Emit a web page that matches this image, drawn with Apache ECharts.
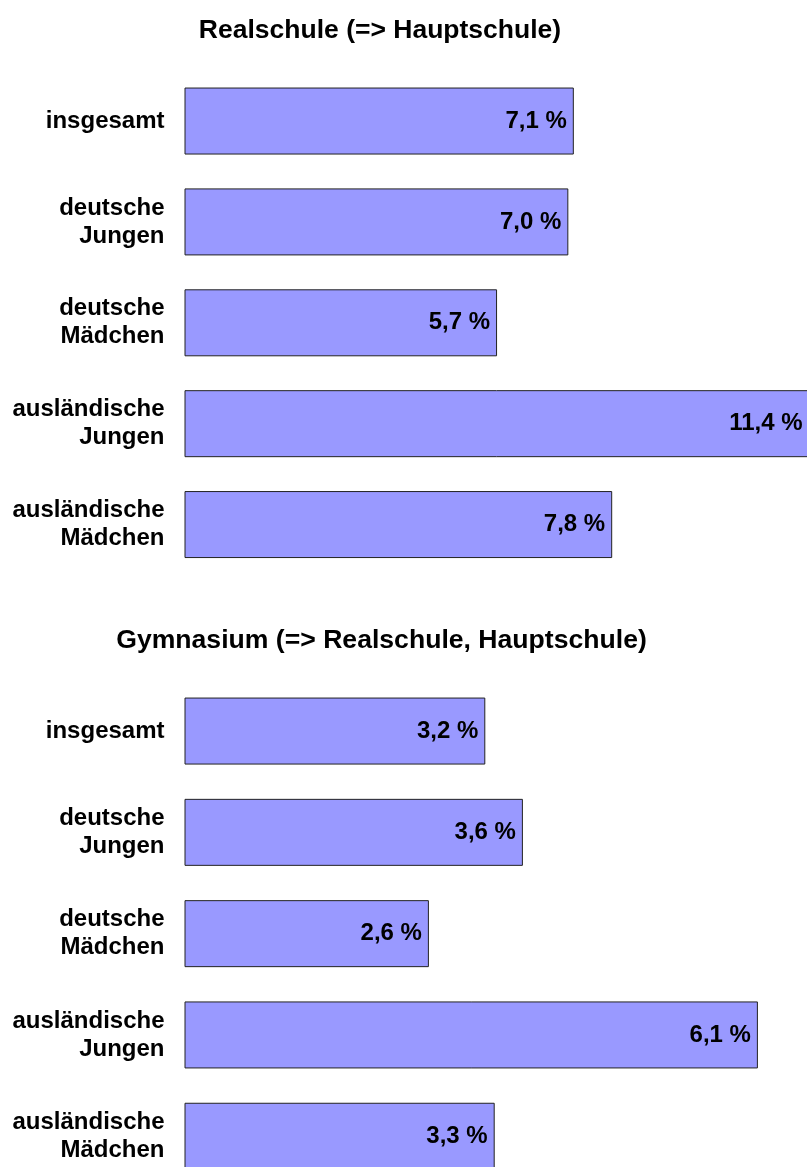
<!DOCTYPE html>
<html>
<head>
<meta charset="utf-8">
<script src="https://cdn.jsdelivr.net/npm/echarts@6/dist/echarts.min.js"></script>
<style>html,body{margin:0;padding:0;background:#fff}#c{width:807px;height:1167px}</style>
</head>
<body>
<div id="c"></div>
<script>
const categories = ['insgesamt', 'deutsche\nJungen', 'deutsche\nMädchen', 'ausländische\nJungen', 'ausländische\nMädchen'];
const realschuleValues = [7.1, 7.0, 5.7, 11.4, 7.8];
const gymnasiumValues = [3.2, 3.6, 2.6, 6.1, 3.3];
const titleTop = 'Realschule (=> Hauptschule)';
const titleBottom = 'Gymnasium (=> Realschule, Hauptschule)';

const FONT = '"Liberation Sans", Arial, Helvetica, sans-serif';
const fmt = p => p.value.toFixed(1).replace('.', ',') + ' %';

function yAx(gi) {
  return {
    type: 'category', gridIndex: gi, data: categories, inverse: true,
    axisLine: {show: false}, axisTick: {show: false}, splitLine: {show: false},
    axisLabel: {margin: 20, color: '#000', fontFamily: FONT, fontWeight: 'bold', fontSize: 24, lineHeight: 28, align: 'right'}
  };
}
function xAx(gi, max) {
  return {type: 'value', gridIndex: gi, min: 0, max: max, show: false, splitLine: {show: false}};
}
function ser(i, data) {
  return {
    type: 'bar', xAxisIndex: i, yAxisIndex: i, data: data, barWidth: 67,
    itemStyle: {color: '#9999FF', borderColor: '#222', borderWidth: 1},
    label: {show: true, position: 'insideRight', distance: 7, formatter: fmt, color: '#000',
            fontFamily: FONT, fontWeight: 'bold', fontSize: 24},
    silent: true, animation: false
  };
}

const chart = echarts.init(document.getElementById('c'), null, {renderer: 'canvas'});
chart.setOption({
  backgroundColor: '#fff',
  animation: false,
  title: [
    {text: titleTop, left: 375, top: 12, textAlign: 'center',
     textStyle: {fontFamily: FONT, fontWeight: 'bold', fontSize: 26.5, color: '#000'}},
    {text: titleBottom, left: 376.5, top: 622, textAlign: 'center',
     textStyle: {fontFamily: FONT, fontWeight: 'bold', fontSize: 26.6, color: '#000'}}
  ],
  grid: [
    {left: 184.5, top: 70.6, width: 658, height: 504.4, containLabel: false, outerBoundsMode: 'none'},
    {left: 184.5, top: 680.4, width: 658, height: 506.5, containLabel: false, outerBoundsMode: 'none'}
  ],
  xAxis: [xAx(0, 12), xAx(1, 7)],
  yAxis: [yAx(0), yAx(1)],
  series: [ser(0, realschuleValues), ser(1, gymnasiumValues)]
});
</script>
</body>
</html>
